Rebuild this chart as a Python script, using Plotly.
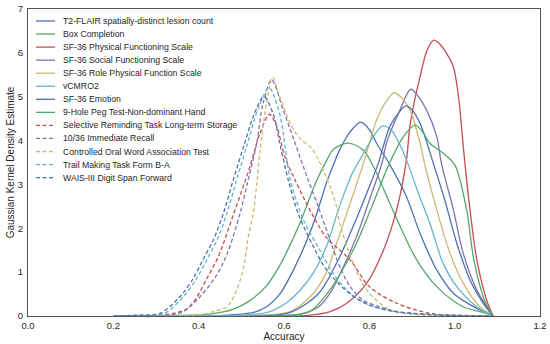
import plotly.graph_objects as go

# ---- data (x = Accuracy, y = density) ----
names = [
    "T2-FLAIR spatially-distinct lesion count",
    "Box Completion",
    "SF-36 Physical Functioning Scale",
    "SF-36 Social Functioning Scale",
    "SF-36 Role Physical Function Scale",
    "vCMRO2",
    "SF-36 Emotion",
    "9-Hole Peg Test-Non-dominant Hand",
    "Selective Reminding Task Long-term Storage",
    "10/36 Immediate Recall",
    "Controlled Oral Word Association Test",
    "Trail Making Task Form B-A",
    "WAIS-III Digit Span Forward",
]

t2_x = [0.20, 0.45, 0.528, 0.559, 0.59, 0.606, 0.637, 0.669, 0.70, 0.716, 0.731, 0.755, 0.78, 0.80, 0.817, 0.848, 0.887, 0.919, 0.958, 0.997, 1.052, 1.09]
t2_y = [0.0, 0.01, 0.08, 0.21, 0.5, 0.75, 1.35, 2.11, 3.05, 3.45, 3.8, 4.2, 4.42, 4.25, 3.94, 3.45, 2.72, 1.88, 1.05, 0.52, 0.17, 0.0]

box_x = [0.20, 0.43, 0.48, 0.52, 0.56, 0.59, 0.606, 0.637, 0.677, 0.70, 0.716, 0.751, 0.786, 0.809, 0.848, 0.88, 0.911, 0.958, 1.02, 1.083, 1.09]
box_y = [0.0, 0.05, 0.15, 0.35, 0.7, 1.15, 1.45, 2.11, 3.10, 3.55, 3.8, 3.94, 3.78, 3.42, 2.57, 1.88, 1.28, 0.67, 0.21, 0.04, 0.0]

phys_x = [0.20, 0.65, 0.708, 0.747, 0.794, 0.833, 0.864, 0.887, 0.895, 0.908, 0.919, 0.935, 0.951, 0.965, 0.981, 0.997, 1.009, 1.016, 1.024, 1.036, 1.052, 1.075, 1.09]
phys_y = [0.0, 0.01, 0.1, 0.29, 0.75, 1.50, 2.42, 3.56, 4.32, 5.0, 5.46, 6.05, 6.29, 6.2, 5.99, 5.68, 5.0, 4.32, 3.48, 2.42, 1.28, 0.36, 0.0]

soc_x = [0.20, 0.60, 0.64, 0.68, 0.71, 0.731, 0.77, 0.80, 0.83, 0.84, 0.872, 0.897, 0.915, 0.934, 0.958, 0.969, 0.997, 1.02, 1.052, 1.083, 1.09]
soc_y = [0.0, 0.01, 0.05, 0.2, 0.55, 0.95, 1.81, 2.64, 3.5, 3.94, 4.70, 5.17, 5.0, 4.70, 4.09, 3.48, 2.42, 1.43, 0.59, 0.1, 0.0]

role_x = [0.20, 0.55, 0.614, 0.669, 0.70, 0.708, 0.723, 0.755, 0.79, 0.817, 0.84, 0.858, 0.875, 0.895, 0.919, 0.93, 0.958, 0.989, 1.02, 1.059, 1.09]
role_y = [0.0, 0.02, 0.1, 0.52, 1.0, 1.2, 1.65, 2.57, 3.6, 4.47, 4.9, 5.09, 4.98, 4.70, 3.94, 3.45, 2.42, 1.43, 0.75, 0.21, 0.0]

vcm_x = [0.20, 0.50, 0.55, 0.575, 0.606, 0.637, 0.67, 0.70, 0.73, 0.76, 0.786, 0.81, 0.83, 0.85, 0.872, 0.887, 0.915, 0.942, 0.973, 1.005, 1.052, 1.09]
vcm_y = [0.0, 0.02, 0.06, 0.13, 0.3, 0.58, 1.0, 1.6, 2.5, 3.25, 3.7, 4.1, 4.33, 4.25, 3.9, 3.56, 2.8, 2.11, 1.20, 0.67, 0.21, 0.0]

emo_x = [0.20, 0.58, 0.62, 0.68, 0.723, 0.755, 0.794, 0.821, 0.848, 0.87, 0.886, 0.90, 0.919, 0.95, 0.977, 1.005, 1.036, 1.067, 1.09]
emo_y = [0.0, 0.02, 0.1, 0.5, 1.2, 1.88, 2.80, 3.48, 4.32, 4.65, 4.79, 4.7, 4.39, 3.48, 2.64, 1.66, 0.82, 0.29, 0.0]

peg_x = [0.20, 0.60, 0.66, 0.708, 0.731, 0.77, 0.809, 0.848, 0.88, 0.907, 0.925, 0.942, 0.973, 1.0, 1.028, 1.045, 1.07, 1.09]
peg_y = [0.0, 0.01, 0.1, 0.6, 0.95, 1.66, 2.57, 3.5, 4.09, 4.35, 4.2, 3.94, 3.71, 3.45, 2.42, 1.28, 0.36, 0.0]

srt_x = [0.20, 0.30, 0.34, 0.372, 0.395, 0.419, 0.446, 0.458, 0.481, 0.508, 0.52, 0.544, 0.566, 0.583, 0.602, 0.626, 0.665, 0.70, 0.755, 0.80, 0.864, 0.942, 1.0, 1.09]
srt_y = [0.0, 0.01, 0.06, 0.16, 0.42, 0.85, 1.35, 1.65, 2.3, 3.05, 3.4, 4.17, 4.6, 4.32, 3.63, 3.10, 2.34, 1.78, 1.28, 0.67, 0.29, 0.06, 0.02, 0.0]

rec_x = [0.20, 0.33, 0.364, 0.403, 0.44, 0.466, 0.497, 0.516, 0.536, 0.551, 0.571, 0.598, 0.626, 0.653, 0.68, 0.708, 0.731, 0.755, 0.786, 0.825, 0.864, 0.95, 1.09]
rec_y = [0.0, 0.02, 0.1, 0.44, 0.9, 1.4, 2.34, 3.1, 3.94, 4.85, 5.38, 4.70, 3.94, 3.2, 2.5, 1.73, 1.12, 0.67, 0.36, 0.21, 0.1, 0.03, 0.0]

cow_x = [0.20, 0.38, 0.419, 0.434, 0.466, 0.489, 0.505, 0.512, 0.516, 0.528, 0.536, 0.544, 0.559, 0.573, 0.59, 0.618, 0.637, 0.665, 0.684, 0.708, 0.723, 0.731, 0.759, 0.794, 0.848, 0.90, 1.09]
cow_y = [0.0, 0.01, 0.05, 0.1, 0.21, 0.59, 1.1, 1.5, 1.8, 2.34, 3.0, 3.78, 4.85, 5.44, 5.0, 4.32, 4.05, 3.82, 3.5, 2.95, 2.5, 2.1, 1.28, 0.59, 0.14, 0.04, 0.0]

tmt_x = [0.20, 0.27, 0.32, 0.364, 0.395, 0.42, 0.444, 0.466, 0.489, 0.512, 0.54, 0.565, 0.59, 0.615, 0.645, 0.684, 0.72, 0.76, 0.80, 0.85, 0.90, 0.95, 1.0, 1.09]
tmt_y = [0.0, 0.02, 0.06, 0.44, 0.85, 1.3, 1.75, 2.34, 3.10, 3.85, 4.75, 5.2, 4.6, 3.1, 2.2, 1.5, 0.9, 0.48, 0.25, 0.12, 0.06, 0.03, 0.01, 0.0]

wais_x = [0.20, 0.26, 0.31, 0.356, 0.387, 0.411, 0.435, 0.458, 0.481, 0.505, 0.53, 0.553, 0.575, 0.59, 0.61, 0.633, 0.669, 0.70, 0.755, 0.80, 0.85, 0.90, 0.95, 1.0, 1.09]
wais_y = [0.0, 0.02, 0.06, 0.44, 0.85, 1.3, 1.75, 2.34, 3.10, 3.85, 4.6, 5.0, 4.6, 3.94, 3.1, 2.34, 1.58, 1.05, 0.50, 0.25, 0.12, 0.06, 0.03, 0.01, 0.0]

series_x = [t2_x, box_x, phys_x, soc_x, role_x, vcm_x, emo_x, peg_x, srt_x, rec_x, cow_x, tmt_x, wais_x]
series_y = [t2_y, box_y, phys_y, soc_y, role_y, vcm_y, emo_y, peg_y, srt_y, rec_y, cow_y, tmt_y, wais_y]

x_ticks = [0.0, 0.2, 0.4, 0.6, 0.8, 1.0, 1.2]
y_ticks = [0, 1, 2, 3, 4, 5, 6, 7]

# ---- styling ----
BLUE, GREEN, RED, PURPLE, YELLOW, CYAN = "#4C72B0", "#55A868", "#C44E52", "#8172B2", "#CCB974", "#64B5CD"
colors = [BLUE, GREEN, RED, PURPLE, YELLOW, CYAN, BLUE, GREEN, RED, PURPLE, YELLOW, CYAN, BLUE]
dashes = ["solid"] * 8 + ["4px,2.5px"] * 5

FONT = "Liberation Sans, Arial, sans-serif"
TXT = "#262626"

fig = go.Figure()
for n, xs, ys, c, d in zip(names, series_x, series_y, colors, dashes):
    fig.add_trace(go.Scatter(
        x=xs, y=ys, mode="lines", name=n,
        line=dict(color=c, width=1.3, dash=d, shape="spline", smoothing=0.9),
        showlegend=False,
    ))

# custom compact legend (matplotlib-like row spacing)
W, H = 550, 344
ml, mr, mt, mb = 28, 10, 9, 28
ph = H - mt - mb
pw = W - ml - mr
shapes = []
annotations = []
for i, (n, c, d) in enumerate(zip(names, colors, dashes)):
    py = 21 + 13.05 * i
    yp = (H - mb - py) / ph
    x0 = (36 - ml) / pw
    x1 = (55 - ml) / pw
    shapes.append(dict(type="line", xref="paper", yref="paper", x0=x0, x1=x1, y0=yp, y1=yp,
                       line=dict(color=c, width=1.3, dash=d)))
    annotations.append(dict(xref="paper", yref="paper", x=(61 - ml) / pw, y=yp, text=n,
                            showarrow=False, xanchor="left", yanchor="middle",
                            font=dict(family=FONT, size=8.7, color=TXT)))

fig.update_layout(
    width=W, height=H,
    margin=dict(l=ml, r=mr, t=mt, b=mb),
    paper_bgcolor="white", plot_bgcolor="white",
    font=dict(family=FONT, color=TXT),
    shapes=shapes, annotations=annotations,
    showlegend=False,
)
fig.update_xaxes(
    range=[0, 1.2], tickvals=x_ticks, ticktext=[f"{v:.1f}" for v in x_ticks],
    showgrid=False, zeroline=False, showline=True, mirror=True,
    linecolor="#555555", linewidth=1.2, ticks="", automargin=False,
    tickfont=dict(size=9.5, color=TXT),
    title=dict(text="Accuracy", font=dict(size=10, color=TXT), standoff=1),
)
fig.update_yaxes(
    range=[0, 7], tickvals=y_ticks, ticklabelstandoff=2,
    showgrid=False, zeroline=False, showline=True, mirror=True,
    linecolor="#555555", linewidth=1.2, ticks="", automargin=False,
    tickfont=dict(size=9.5, color=TXT),
    title=dict(text="Gaussian Kernel Density Estimate", font=dict(size=10, color=TXT), standoff=1),
)

fig.write_html("out.html", config={"displayModeBar": False},
               post_script="document.body.style.margin='0';")
